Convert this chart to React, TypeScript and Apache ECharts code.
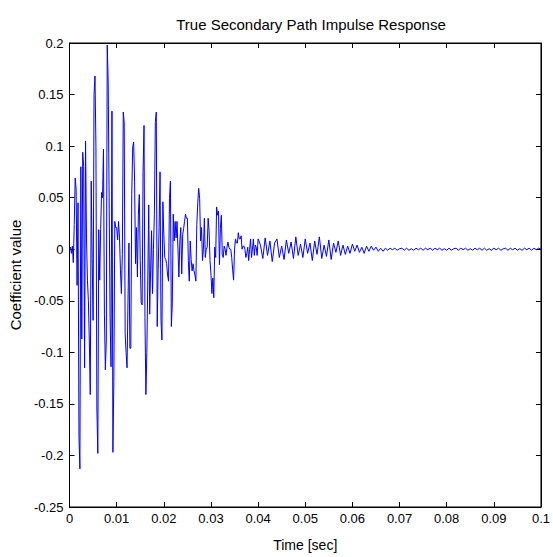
import React, { useEffect, useRef } from "react";
import * as echarts from "echarts";

// Impulse response samples
const EARLY_START = 0;
const EARLY_DT = 0.0002; // seconds between early samples
const earlyValues = [
  0, 0.002, -0.004, 0.003, -0.013, 0.024, 0.069, 0.058, -0.035, 0.045,
  -0.181, -0.213, 0.08, -0.087, 0.094, 0.08, -0.115, 0.105, 0.01, -0.03,
  -0.05, -0.09, -0.141, 0.066, -0.009, -0.069, 0.15, 0.168, 0.1, -0.154,
  -0.198, 0.019, -0.03, 0.019, 0.055, 0.05, 0.097, -0.063, -0.117, -0.088,
  0.198, 0.162, 0.05, -0.066, -0.114, 0.134, -0.197, -0.128, 0.027, 0.021,
  0.021, 0.009, 0.027, 0.011, -0.02, -0.043, -0.005, 0.133, 0.123, -0.082,
  -0.1, -0.115, -0.05, 0.006, -0.096, -0.096, 0.053, 0.099, 0.104, 0.066,
  -0.014, 0.021, -0.027, 0.034, 0.053, -0.011, -0.052, -0.054, 0.075, 0.12,
  -0.066, -0.141, -0.1, -0.03, 0.043, -0.063, -0.02, 0.018, -0.043, 0.0,
  0.034, 0.123, 0.133, -0.075, -0.02, 0.021, 0.075, -0.069, -0.088, 0.046,
  0.014, -0.008, -0.01, -0.014, -0.025, -0.031, 0.049, 0.066, -0.075, -0.052,
  0.034, 0.008, 0.027, 0.011, 0.027, 0.0, -0.027, 0.008, 0.021, -0.024,
  0.014, 0.02, 0.027, 0.034, 0.03, 0.03, -0.011, -0.031, 0.008, -0.01,
  -0.021, -0.014, -0.021, -0.025, -0.031, 0.024, 0.045, 0.059, 0.049, 0.008,
  0.021, -0.011, 0.0, 0.03, -0.008, 0.0, 0.002, 0.03, 0.018, -0.011,
  -0.024, -0.043, -0.028, -0.047, 0.002, -0.008, 0.041, 0.033, 0.037, -0.015,
  0.02, 0.033, -0.005, -0.008, 0.003, 0.0, -0.006, 0.002, 0.007, 0.002,
  0.0, 0.0, -0.008, -0.02, -0.03, 0.0, 0.01, 0.006, 0.006, 0.016,
  0.01, 0.01, 0.013, 0.0, 0.003, 0.003, 0.0, -0.008, -0.004, 0.002,
  -0.011, 0.0, 0.01, -0.008, 0.0, 0.01, -0.006, 0.004, 0.002, -0.006,
  0.01,
];

const TAIL_START = 0.0405;
const TAIL_DT = 0.0005;
const tailValues = [
  0.004, -0.009, 0.011, -0.006, 0.008, -0.012, 0.006, 0.01, -0.008, 0.003,
  -0.01, 0.009, -0.004, 0.007, -0.009, 0.012, -0.006, 0.005,
  -0.008, 0.01, -0.004, 0.006, -0.011, 0.008, -0.005, 0.012, -0.009, 0.004,
  -0.007, 0.009, -0.01, 0.006, -0.003, 0.008, -0.006, 0.004,
  -0.005, 0.003, -0.004, 0.005, -0.002, 0.004, -0.003, 0.002, -0.004, 0.003,
  -0.002, 0.003, -0.001, 0.002, -0.002, 0.001, -0.002,
  0.001, -0.001, 0.001, -0.0005, 0.001, -0.001, 0.0005, 0.001, -0.001, 0.001,
  -0.001, 0.0005, -0.001, 0.001, -0.0005, 0.001, -0.001, 0.001, -0.0005, 0.001,
  -0.001, 0.001, -0.0005, 0.001, -0.001, 0.0005, -0.001, 0.001, -0.001, 0.0005,
  0.001, -0.001, 0.001, -0.0005, 0.001, -0.001, 0.0005, -0.001, 0.001, -0.0005,
  0.001, -0.001, 0.001, -0.001, 0.0005, -0.001, 0.001, -0.0005, 0.001, -0.001,
  0.0005, 0.001, -0.001, 0.001, -0.0005, 0.001, -0.001, 0.0005, -0.001, 0.001,
  -0.0005, 0.001, -0.001, 0.001, -0.0005, 0.001, 0,
];

const X_MIN = 0;
const X_MAX = 0.1;
const X_STEP = 0.01;
const Y_MIN = -0.25;
const Y_MAX = 0.2;
const Y_STEP = 0.05;

const TITLE = "True Secondary Path Impulse Response";
const X_NAME = "Time [sec]";
const Y_NAME = "Coefficient value";

export default function App() {
  const ref = useRef<HTMLDivElement>(null);

  useEffect(() => {
    if (!ref.current) return;
    const chart = echarts.init(ref.current, null, { renderer: "svg" });
    const data: [number, number][] = [
      ...earlyValues.map((v, i) => [EARLY_START + i * EARLY_DT, v] as [number, number]),
      ...tailValues.map((v, k) => [TAIL_START + k * TAIL_DT, v] as [number, number]),
    ];
    const font = "'Liberation Sans', Arial, sans-serif";
    const fmt = (v: number) => String(parseFloat(v.toFixed(4)));
    const axisLine = { show: true, onZero: false, lineStyle: { color: "#000", width: 1 } };
    const tick = { show: true, inside: true, length: 5, lineStyle: { color: "#000", width: 1 } };
    const label = { fontFamily: font, fontSize: 13, color: "#000" };

    chart.setOption({
      animation: false,
      backgroundColor: "#fff",
      title: {
        text: TITLE,
        left: 306,
        top: 12,
        textAlign: "center",
        textStyle: { fontFamily: font, fontSize: 15, fontWeight: "normal", color: "#000" },
      },
      grid: {
        left: 68,
        right: 9,
        top: 43,
        bottom: 45,
        show: true,
        borderColor: "#000",
        borderWidth: 1,
        backgroundColor: "#fff",
      },
      xAxis: [
        {
          type: "value",
          min: X_MIN,
          max: X_MAX,
          interval: X_STEP,
          position: "bottom",
          name: X_NAME,
          nameLocation: "middle",
          nameGap: 31,
          nameTextStyle: { fontFamily: font, fontSize: 14, color: "#000" },
          axisLine,
          axisTick: tick,
          axisLabel: { ...label, margin: 5, formatter: fmt, showMinLabel: true, showMaxLabel: true },
          splitLine: { show: false },
        },
        {
          type: "value",
          min: X_MIN,
          max: X_MAX,
          interval: X_STEP,
          position: "top",
          axisLine,
          axisTick: tick,
          axisLabel: { show: false },
          splitLine: { show: false },
        },
      ],
      yAxis: [
        {
          type: "value",
          min: Y_MIN,
          max: Y_MAX,
          interval: Y_STEP,
          position: "left",
          name: Y_NAME,
          nameLocation: "middle",
          nameGap: 46,
          nameTextStyle: { fontFamily: font, fontSize: 15, color: "#000" },
          axisLine,
          axisTick: tick,
          axisLabel: { ...label, margin: 6, formatter: fmt, showMinLabel: true, showMaxLabel: true },
          splitLine: { show: false },
        },
        {
          type: "value",
          min: Y_MIN,
          max: Y_MAX,
          interval: Y_STEP,
          position: "right",
          axisLine,
          axisTick: tick,
          axisLabel: { show: false },
          splitLine: { show: false },
        },
      ],
      series: [
        {
          type: "line",
          data,
          xAxisIndex: 0,
          yAxisIndex: 0,
          showSymbol: false,
          symbol: "none",
          lineStyle: { color: "#0000ff", width: 1 },
        },
      ],
    });
    return () => chart.dispose();
  }, []);

  return (
    <div
      ref={ref}
      style={{ position: "absolute", left: 0, top: 0, width: 553, height: 557 }}
    />
  );
}
